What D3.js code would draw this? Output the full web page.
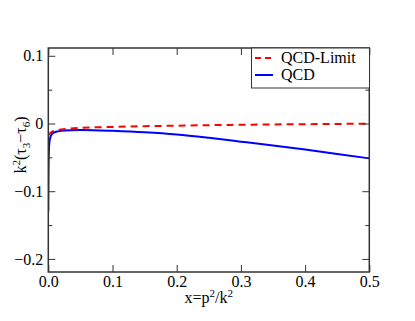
<!DOCTYPE html>
<html><head><meta charset="utf-8">
<script src="https://cdn.jsdelivr.net/npm/d3@7"></script>
<style>html,body{margin:0;padding:0;background:#fff;}
text, tspan { font-family: "Liberation Serif", serif !important; }</style>
</head><body>
<svg id="c" width="415" height="321"></svg>
<script>
const xTicks = [0.0, 0.1, 0.2, 0.3, 0.4, 0.5];
const yTicks = [-0.2, -0.1, 0, 0.1];
const yMinorTicks = [-0.15, -0.05, 0.05];
const seriesNames = ["QCD-Limit", "QCD"];
const xLimit = [0, 0.002, 0.005, 0.01, 0.02, 0.035, 0.05, 0.075, 0.1, 0.15, 0.2, 0.25, 0.3, 0.35, 0.4, 0.45, 0.5];
const yLimit = [-0.017, -0.015, -0.0125, -0.0105, -0.009, -0.0075, -0.0066, -0.0056, -0.005, -0.004, -0.0032, -0.0025, -0.0019, -0.0014, -0.001, -0.0006, -0.0003];
const xQCD = [0, 0.0003, 0.0008, 0.0015, 0.003, 0.005, 0.008, 0.012, 0.02, 0.035, 0.05, 0.07, 0.1, 0.15, 0.2, 0.25, 0.3, 0.35, 0.4, 0.45, 0.5];
const yQCD = [-0.13, -0.08, -0.045, -0.03, -0.021, -0.0165, -0.0138, -0.0122, -0.0108, -0.0098, -0.0096, -0.0098, -0.0108, -0.013, -0.0163, -0.0212, -0.0268, -0.0325, -0.0385, -0.045, -0.0515];

const svg = d3.select("#c");
const L = 48.3, R = 369.3, T = 48, B = 272;
const x = d3.scaleLinear().domain([0, 0.5]).range([L, R]);
const y = d3.scaleLinear().domain([-0.2193, 0.1115]).range([B, T]);
const FONT = "Liberation Serif";

const dLimit = xLimit.map((v,i)=>[v,yLimit[i]]);
const dQCD = xQCD.map((v,i)=>[v,yQCD[i]]);
const lineC = d3.line().x(d=>x(d[0])).y(d=>y(d[1])).curve(d3.curveMonotoneX);

svg.append("defs").append("clipPath").attr("id","clip")
  .append("rect").attr("x",L).attr("y",T).attr("width",R-L).attr("height",B-T);
svg.append("path").attr("d", lineC(dQCD)).attr("fill","none")
  .attr("stroke","#0000ff").attr("stroke-width",2).attr("clip-path","url(#clip)");
svg.append("path").attr("d", lineC(dLimit)).attr("fill","none")
  .attr("stroke","#ff0000").attr("stroke-width",2).attr("stroke-dasharray","7,5").attr("clip-path","url(#clip)");

const axCol = "#333";
function styleAxis(g){
  g.attr("font-family", FONT).attr("font-size", 16);
  g.select(".domain").remove();
  g.selectAll(".tick line").attr("stroke",axCol).attr("stroke-width",1);
  g.selectAll("text").attr("fill","#000").attr("font-family", FONT).style("font-family", '"Liberation Serif"');
}
const xb = svg.append("g").attr("transform",`translate(0,${B})`)
  .call(d3.axisBottom(x).tickValues(xTicks).tickSize(-7).tickPadding(4).tickFormat(d3.format(".1f")));
styleAxis(xb);
const xt = svg.append("g").attr("transform",`translate(0,${T})`)
  .call(d3.axisTop(x).tickValues(xTicks).tickSize(-7).tickFormat(""));
styleAxis(xt);

const yFmt = d => d === 0 ? "0" : d3.format(".1f")(d);
const yl = svg.append("g").attr("transform",`translate(${L},0)`)
  .call(d3.axisLeft(y).tickValues(yTicks).tickSize(-7).tickPadding(5).tickFormat(yFmt));
styleAxis(yl);
const ylm = svg.append("g").attr("transform",`translate(${L},0)`)
  .call(d3.axisLeft(y).tickValues(yMinorTicks).tickSize(-4).tickFormat(""));
styleAxis(ylm);
const yr = svg.append("g").attr("transform",`translate(${R},0)`)
  .call(d3.axisRight(y).tickValues(yTicks).tickSize(-7).tickFormat(""));
styleAxis(yr);
const yrm = svg.append("g").attr("transform",`translate(${R},0)`)
  .call(d3.axisRight(y).tickValues(yMinorTicks).tickSize(-4).tickFormat(""));
styleAxis(yrm);

svg.append("rect").attr("x",L).attr("y",T).attr("width",R-L).attr("height",B-T)
  .attr("fill","none").attr("stroke",axCol).attr("stroke-width",1.5);

const xlab = svg.append("text").attr("x",(L+R)/2).attr("y",303).attr("text-anchor","middle")
  .attr("font-family",FONT).attr("font-size",16).attr("fill","#000");
xlab.append("tspan").text("x=p");
xlab.append("tspan").attr("dy",-6).attr("font-size",11).text("2");
xlab.append("tspan").attr("dy",6).text("/k");
xlab.append("tspan").attr("dy",-6).attr("font-size",11).text("2");

const ylab = svg.append("text").attr("transform",`translate(26,145) rotate(-90)`).attr("text-anchor","middle")
  .attr("font-family",FONT).attr("font-size",16).attr("fill","#000");
ylab.append("tspan").text("k");
ylab.append("tspan").attr("dy",-6).attr("font-size",11).text("2");
ylab.append("tspan").attr("dy",6).text("(τ");
ylab.append("tspan").attr("dy",4).attr("font-size",11).text("3");
ylab.append("tspan").attr("dy",-4).text("−τ");
ylab.append("tspan").attr("dy",4).attr("font-size",11).text("6");
ylab.append("tspan").attr("dy",-4).text(")");

const lg = svg.append("g");
lg.append("rect").attr("x",251.5).attr("y",48).attr("width",118).attr("height",40)
  .attr("fill","#fff").attr("stroke",axCol).attr("stroke-width",1);
const legStyles = [{c:"#ff0000",dash:"6,4"},{c:"#0000ff",dash:null}];
seriesNames.forEach((n,i)=>{
  const yy = 58 + i*17;
  const l = lg.append("line").attr("x1",255).attr("x2",273).attr("y1",yy).attr("y2",yy)
    .attr("stroke",legStyles[i].c).attr("stroke-width",2);
  if(legStyles[i].dash) l.attr("stroke-dasharray",legStyles[i].dash);
  lg.append("text").attr("x",281).attr("y",yy+5).attr("font-family",FONT).attr("font-size",16)
    .attr("fill","#000").text(n);
});
</script>
</body></html>
